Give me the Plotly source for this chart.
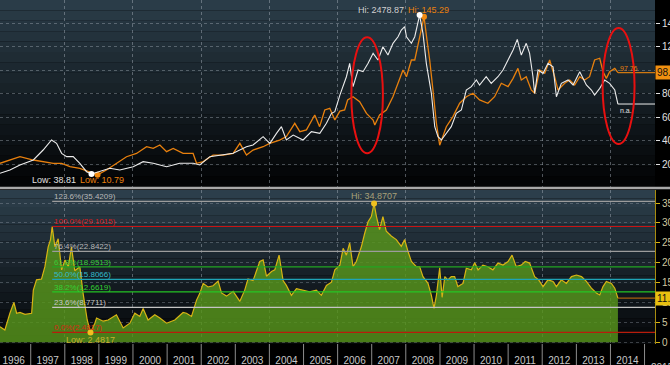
import numpy as np
import plotly.graph_objects as go

# ---------------- data ----------------
oil_dates = ["1996-02-07","1996-05-23","1996-09-08","1997-01-29","1997-05-14","1997-08-31","1997-11-28",
    "1998-02-25","1998-06-11","1998-09-10","1998-12-18","1999-03-23","1999-07-08","1999-10-24",
    "2000-02-08","2000-05-26","2000-08-05","2000-10-15","2000-12-26","2001-03-07","2001-06-21",
    "2001-10-06","2001-11-12","2002-01-22","2002-05-08","2002-08-24","2002-12-09","2003-02-19",
    "2003-05-01","2003-07-10","2003-10-26","2004-01-05","2004-04-20","2004-07-01","2004-09-29",
    "2004-11-22","2005-02-01","2005-05-01","2005-06-22","2005-08-16","2005-10-09","2005-12-02",
    "2006-01-25","2006-03-17","2006-04-18","2006-06-15","2006-08-25","2006-11-06","2007-01-16",
    "2007-02-03","2007-03-26","2007-06-07","2007-08-16","2007-10-27","2007-12-02","2008-01-08",
    "2008-03-01","2008-04-06","2008-05-28","2008-07-14","2008-08-15","2008-09-13","2008-10-18",
    "2008-11-24","2008-12-29","2009-02-03","2009-03-10","2009-05-20","2009-07-31","2009-10-11",
    "2009-12-20","2010-03-01","2010-05-29","2010-08-09","2010-10-20","2010-12-31","2011-02-23",
    "2011-04-16","2011-05-22","2011-07-14","2011-09-06","2011-10-12","2011-12-05","2012-01-28",
    "2012-03-21","2012-05-13","2012-06-18","2012-08-29","2012-10-21","2012-12-14","2013-02-06",
    "2013-03-30","2013-05-22","2013-07-15","2013-09-08","2013-10-13","2013-11-18","2013-12-23",
    "2014-02-16","2014-03-22"]
oil_values = [20.6,23.4,26.2,23.4,22.0,20.6,20.6,
    17.7,16.3,13.5,10.79,14.9,20.6,26.2,
    29.0,34.7,33.3,36.2,30.5,33.3,29.0,
    29.0,20.6,22.0,27.6,27.6,29.0,37.6,
    27.6,31.9,34.7,37.6,40.4,43.3,54.6,
    47.5,49.0,61.7,51.8,66.0,67.4,57.5,
    65.0,66.0,74.5,77.3,73.0,63.1,57.4,
    53.2,61.7,66.0,77.3,91.5,100.0,94.3,
    108.5,108.5,128.3,145.29,125.5,108.5,83.0,
    54.6,36.0,43.2,51.7,60.3,71.7,77.3,
    80.2,74.5,71.7,77.3,88.7,85.8,92.9,
    101.4,91.5,94.3,83.0,80.2,100.0,97.2,
    108.5,94.3,83.0,88.7,91.5,87.2,94.3,
    91.5,94.3,108.5,110.0,98.6,92.9,98.6,
    101.4,97.76]

index_dates = ["1996-02-07","1996-05-23","1996-09-08","1997-01-29","1997-05-14","1997-08-12","1997-10-05",
    "1997-11-28","1998-01-21","1998-04-01","1998-06-11","1998-08-22","1998-10-14","1999-01-12",
    "1999-04-28","1999-08-13","2000-01-04","2000-04-19","2000-08-05","2000-12-26","2001-05-16",
    "2001-10-07","2001-12-17","2002-04-03","2002-07-18","2002-12-09","2003-04-30","2003-07-10",
    "2003-10-26","2004-01-06","2004-03-17","2004-05-09","2004-07-01","2004-09-12","2004-12-27",
    "2005-03-26","2005-06-24","2005-09-03","2005-10-27","2005-12-02","2006-01-25","2006-04-05",
    "2006-05-10","2006-06-15","2006-08-08","2006-09-30","2006-11-23","2007-01-16","2007-03-09",
    "2007-05-01","2007-06-24","2007-08-17","2007-10-10","2007-11-14","2007-12-20","2008-01-08",
    "2008-03-01","2008-04-06","2008-05-28","2008-07-03","2008-08-08","2008-09-07","2008-10-01",
    "2008-11-06","2008-12-11","2009-01-16","2009-03-10","2009-05-02","2009-06-25","2009-08-18",
    "2009-10-10","2009-12-03","2010-01-26","2010-03-01","2010-05-11","2010-07-04","2010-09-14",
    "2010-11-07","2010-12-31","2011-02-23","2011-04-09","2011-05-22","2011-07-14","2011-08-19",
    "2011-09-24","2011-10-12","2011-11-17","2012-01-10","2012-03-03","2012-04-26","2012-06-01",
    "2012-07-24","2012-10-04","2012-11-27","2013-02-06","2013-04-18","2013-06-11","2013-07-15",
    "2013-09-08","2013-10-31","2013-12-23","2014-02-16","2014-03-22"]
index_values = [49,100,177,254,407,561,510,
    356,305,305,203,74,38.81,74,
    126,100,151,228,203,151,203,
    203,177,305,330,356,458,484,
    612,510,663,765,561,637,561,
    689,663,817,970,996,1250,1532,
    1738,1379,1635,1609,1738,1891,1789,
    1993,1865,2045,2146,2249,2300,2146,
    2045,2146,2478.87,2198,1738,1482,1277,
    765,612,561,663,765,970,1021,
    1328,1379,1482,1405,1532,1430,1532,
    1635,1789,1942,2106,1865,2045,1891,
    1532,1277,1635,1584,1738,1686,1225,
    1430,1482,1405,1609,1405,1328,1251,
    1354,1482,1430,1328,1113]

ratio_dates = ["1996-02-07","1996-03-30","1996-05-23","1996-07-05","1996-08-03","1996-09-08","1996-11-01",
    "1997-01-11","1997-01-29","1997-03-04","1997-04-27","1997-06-02","1997-07-07","1997-08-01",
    "1997-08-19","1997-09-17","1997-10-22","1997-11-28","1998-01-03","1998-02-08","1998-03-13",
    "1998-04-18","1998-06-11","1998-07-16","1998-08-29","1998-10-03","1998-11-19","1998-12-07",
    "1999-02-17","1999-04-10","1999-07-08","1999-09-18","1999-11-29","2000-01-21","2000-03-14",
    "2000-04-19","2000-06-11","2000-08-22","2000-10-15","2000-12-26","2001-03-24","2001-06-21",
    "2001-07-27","2001-09-19","2001-11-12","2001-12-17","2002-01-22","2002-03-15","2002-05-08",
    "2002-07-01","2002-08-06","2002-09-29","2002-12-09","2003-02-19","2003-04-12","2003-05-17",
    "2003-07-10","2003-09-20","2003-10-26","2003-12-01","2004-01-24","2004-02-28","2004-04-14",
    "2004-05-27","2004-07-01","2004-08-24","2004-10-17","2004-12-27","2005-03-08","2005-05-18",
    "2005-07-11","2005-09-03","2005-10-27","2005-12-02","2006-01-25","2006-03-01","2006-04-05",
    "2006-05-10","2006-06-15","2006-07-20","2006-09-12","2006-10-18","2006-11-23","2006-12-28",
    "2007-01-26","2007-02-21","2007-03-26","2007-05-01","2007-06-06","2007-07-29","2007-09-21",
    "2007-11-14","2007-12-20","2008-01-25","2008-03-01","2008-04-23","2008-05-28","2008-07-03",
    "2008-08-26","2008-10-01","2008-10-29","2008-11-24","2008-12-29","2009-01-24","2009-02-22",
    "2009-03-27","2009-05-02","2009-06-07","2009-07-12","2009-09-05","2009-10-10","2009-12-03",
    "2010-01-08","2010-02-13","2010-04-06","2010-05-29","2010-07-22","2010-09-14","2010-11-07",
    "2010-12-31","2011-02-12","2011-03-29","2011-05-22","2011-07-03","2011-08-19","2011-10-12",
    "2011-11-24","2012-01-10","2012-03-03","2012-04-26","2012-06-01","2012-07-24","2012-09-16",
    "2012-11-09","2013-01-02","2013-02-25","2013-04-18","2013-06-11","2013-08-03","2013-09-08",
    "2013-10-13","2013-11-18","2014-01-11","2014-02-16","2014-03-22"]
ratio_values = [3.9,3.1,7.3,10.0,7.3,7.5,7.0,
    7.3,13.1,15.7,15.9,19.0,24.0,25.8,
    29.1015,24.0,26.0,18.2,20.7,19.0,24.0,
    18.0,19.0,12.3,5.6,2.4817,4.8,6.1,
    5.3,5.6,6.9,3.6,4.8,7.3,6.5,
    8.5,5.6,6.9,6.1,4.8,5.6,7.5,
    7.3,6.5,10.6,12.3,14.8,13.9,14.2,
    15.4,12.4,11.6,12.8,10.3,13.1,15.9,
    15.5,20.3,20.7,16.6,17.8,18.2,21.9,
    15.5,14.3,11.8,13.5,13.1,12.7,13.1,
    11.8,14.3,15.1,18.2,19.4,23.6,21.9,
    25.0,19.0,20.3,24.0,27.4,30.3,31.6,
    34.8707,31.6,28.3,31.6,27.9,26.7,25.8,
    24.1,25.8,22.8,20.3,19.0,19.0,16.5,
    14.8,11.8,8.5,11.8,18.7,11.3,16.5,
    15.7,16.5,16.5,14.0,14.8,18.6,18.2,
    20.0,18.2,19.4,19.0,18.2,19.9,19.4,
    20.3,21.9,19.0,19.4,20.3,19.9,16.5,
    15.7,14.0,15.7,15.3,14.0,15.7,14.8,
    16.5,16.9,16.5,15.3,13.6,12.4,11.9,
    14.0,15.3,14.8,13.6,11.1]

fib_labels = ["123.6%", "100.0%", "76.4%", "61.8%", "50.0%", "38.2%", "23.6%", "0.0%"]
fib_levels = [35.4209, 29.1015, 22.8422, 18.9513, 15.8066, 12.6619, 8.7711, 2.4817]
fib_line_colors = ["#9c9c9c", "#c81414", "#9c9c9c", "#22a522", "#1fa3b5", "#25c525", "#c4c4c4", "#b81c0c"]
fib_text_colors = ["#b8b8b8", "#d81c1c", "#b8b8b8", "#34c834", "#34bccc", "#34d034", "#c8c8c8", "#d82a14"]

year_labels = [str(y) for y in range(1996, 2015)]
oil_ticks = [20, 40, 60, 80, 100, 120, 140]
ratio_ticks = [0, 5, 10, 15, 20, 25, 30, 35]

X_START, X_END = "1996-02-07", "2015-04-23"

# ---------------- figure ----------------
FONT = "Liberation Sans"
fig = go.Figure()

ORANGE = "#e8800e"
WHITE = "#ececec"
YELLOW = "#d8b414"

fig.add_trace(go.Scatter(x=index_dates, y=index_values, mode="lines", xaxis="x2", yaxis="y3",
                         line=dict(color=WHITE, width=1.1), hoverinfo="skip"))
fig.add_trace(go.Scatter(x=oil_dates, y=oil_values, mode="lines", xaxis="x2", yaxis="y2",
                         line=dict(color=ORANGE, width=1.3), hoverinfo="skip"))
fig.add_trace(go.Scatter(x=[index_dates[-1], X_END], y=[index_values[-1], index_values[-1]], mode="lines",
                         xaxis="x2", yaxis="y3", line=dict(color=WHITE, width=1), hoverinfo="skip"))
fig.add_trace(go.Scatter(x=[oil_dates[-1], X_END], y=[oil_values[-1], oil_values[-1]], mode="lines",
                         xaxis="x2", yaxis="y2", line=dict(color="#d07810", width=1.3), hoverinfo="skip"))

oi_lo, oi_hi = int(np.argmin(oil_values)), int(np.argmax(oil_values))
ix_lo, ix_hi = int(np.argmin(index_values)), int(np.argmax(index_values))
fig.add_trace(go.Scatter(x=[index_dates[ix_lo], index_dates[ix_hi]], y=[index_values[ix_lo], index_values[ix_hi]],
                         mode="markers", xaxis="x2", yaxis="y3", marker=dict(color="white", size=6), hoverinfo="skip"))
fig.add_trace(go.Scatter(x=[oil_dates[oi_lo], oil_dates[oi_hi]], y=[oil_values[oi_lo], oil_values[oi_hi]],
                         mode="markers", xaxis="x2", yaxis="y2", marker=dict(color="#f08a10", size=6), hoverinfo="skip"))

fig.add_trace(go.Scatter(x=ratio_dates, y=ratio_values, mode="lines", xaxis="x", yaxis="y",
                         fill="tozeroy", fillcolor="rgba(88,150,28,0.82)",
                         line=dict(color=YELLOW, width=1.2), hoverinfo="skip"))
fig.add_trace(go.Scatter(x=[ratio_dates[-1], X_END], y=[ratio_values[-1], ratio_values[-1]], mode="lines",
                         xaxis="x", yaxis="y", line=dict(color="#a8600e", width=1.3), hoverinfo="skip"))

r_hi_1997 = int(np.argmax(ratio_values[:30]))
fib_start = ratio_dates[r_hi_1997]
for lvl, col in zip(fib_levels, fib_line_colors):
    fig.add_trace(go.Scatter(x=[fib_start, X_END], y=[lvl, lvl], mode="lines", xaxis="x", yaxis="y",
                             line=dict(color=col, width=1.2), hoverinfo="skip"))

r_lo, r_hi = int(np.argmin(ratio_values)), int(np.argmax(ratio_values))
fig.add_trace(go.Scatter(x=[ratio_dates[r_lo], ratio_dates[r_hi]], y=[ratio_values[r_lo], ratio_values[r_hi]],
                         mode="markers", xaxis="x", yaxis="y", marker=dict(color="#f0c020", size=6), hoverinfo="skip"))

# ---------------- background gradients ----------------
shapes = []
def grad(yref, top, bottom, n=18):
    for i in range(n):
        t = i / (n - 1)
        c = [int(round(top[k] + (bottom[k] - top[k]) * t)) for k in range(3)]
        shapes.append(dict(type="rect", xref="paper", yref=yref, x0=0, x1=1,
                           y0=1 - (i + 1) / n, y1=1 - i / n, fillcolor=f"rgb({c[0]},{c[1]},{c[2]})",
                           line=dict(width=0), layer="below"))
grad("y2 domain", (42, 60, 72), (3, 4, 5))
grad("y domain", (44, 62, 75), (5, 7, 9))

shapes.append(dict(type="line", xref="paper", yref="paper", x0=0, x1=1.03, y0=0.4535, y1=0.4535,
                   line=dict(color="#a8a8a8", width=2.5)))
for y in range(1997, 2016):
    shapes.append(dict(type="line", xref="x", yref="paper", x0=f"{y}-01-01", x1=f"{y}-01-01",
                       y0=0, y1=-0.07, line=dict(color="#8c8c8c", width=1)))
shapes.append(dict(type="circle", xref="x2", yref="y2", x0="2006-05-28", x1="2007-05-01",
                   y0=29.1, y1=127.8, line=dict(color="#e81010", width=2)))
shapes.append(dict(type="circle", xref="x2", yref="y2", x0="2013-10-09", x1="2014-09-16",
                   y0=37.0, y1=135.7, line=dict(color="#e81010", width=2)))

# ---------------- annotations ----------------
ann = []
def A(**kw):
    base = dict(showarrow=False, font=dict(family=FONT, size=9))
    base.update(kw)
    ann.append(base)

for lab, lvl, col in zip(fib_labels, fib_levels, fib_text_colors):
    A(x=fib_start, y=lvl, xref="x", yref="y", xanchor="left", yanchor="bottom", yshift=-2,
      text=f"{lab}({lvl:.4f})", font=dict(family=FONT, size=8, color=col))

A(x=ratio_dates[r_lo], y=ratio_values[r_lo], xref="x", yref="y", yanchor="top", yshift=-1,
  text=f"Low: {ratio_values[r_lo]:.4f}", font=dict(family=FONT, size=9, color="#c8b030"))
A(x=ratio_dates[r_hi], y=ratio_values[r_hi], xref="x", yref="y", yanchor="bottom", yshift=1,
  text=f"Hi: {ratio_values[r_hi]:.4f}", font=dict(family=FONT, size=9, color="#a8a078"))

A(x="1998-05-20", y=6, xref="x2", yref="y2", xanchor="right", text=f"Low: {index_values[ix_lo]:.2f}",
  font=dict(family=FONT, size=9, color="#e0e0e0"))
A(x="1998-05-20", y=6, xref="x2", yref="y2", xanchor="left", text=f"Low: {oil_values[oi_lo]:.2f}",
  font=dict(family=FONT, size=9, color=ORANGE))
A(x="2008-01-07", y=151, xref="x2", yref="y2", xanchor="right", text=f"Hi: {index_values[ix_hi]:.2f}",
  font=dict(family=FONT, size=9, color="#d0d0d0"))
A(x="2008-01-07", y=151, xref="x2", yref="y2", xanchor="left", text=f"Hi: {oil_values[oi_hi]:.2f}",
  font=dict(family=FONT, size=9, color=ORANGE))

A(x=oil_dates[-1], y=oil_values[-1], xref="x2", yref="y2", xanchor="left", yanchor="bottom", yshift=-1,
  text=f"{oil_values[-1]:.2f}", font=dict(family=FONT, size=7, color=ORANGE))
A(x=index_dates[-1], y=index_values[-1], xref="x2", yref="y3", xanchor="left", yanchor="top", yshift=-1,
  text="n.a.", font=dict(family=FONT, size=7, color="#e0e0e0"))

A(x=1.0, y=oil_values[-1], xref="paper", yref="y2", xanchor="left", text=f"{oil_values[-1]:.0f}.",
  bgcolor="#f09010", font=dict(family=FONT, size=10, color="#101010"), borderpad=1)
A(x=1.0, y=ratio_values[-1], xref="paper", yref="y", xanchor="left", text=f"{ratio_values[-1]:.0f}.",
  bgcolor="#e8c010", font=dict(family=FONT, size=10, color="#101010"), borderpad=1)

A(x=0.991, y=-0.046, xref="paper", yref="paper", xanchor="left", yanchor="top",
  text="2015", font=dict(family=FONT, size=10, color="#c8c8c8"))

# ---------------- axes ----------------
even_years = [f"{y}-01-01" for y in range(1998, 2016, 2)]
mid_years = [f"{y}-07-02" for y in range(1996, 2015)]
xcommon = dict(type="date", range=[X_START, X_END], showgrid=False, zeroline=False, showline=False,
               automargin=False,
               minor=dict(tickmode="array", tickvals=even_years, showgrid=True,
                          gridcolor="rgba(170,180,190,0.45)", griddash="dot", gridwidth=1))

fig.update_layout(
    width=670, height=365,
    margin=dict(l=0, r=15, t=0, b=21, autoexpand=False),
    paper_bgcolor="#000000", plot_bgcolor="#000000",
    showlegend=False,
    font=dict(family=FONT, size=10, color="#d0d0d0"),
    xaxis=dict(**xcommon, anchor="y", tickmode="array", tickvals=mid_years, ticktext=year_labels,
               ticks="outside", ticklen=7, tickcolor="rgba(0,0,0,0)",
               tickfont=dict(family=FONT, size=10, color="#c8c8c8")),
    xaxis2=dict(**xcommon, anchor="y2", matches="x", showticklabels=False),
    yaxis=dict(domain=[0, 0.4477], range=[-0.43, 38.27], side="right", anchor="x", automargin=False,
               tickmode="array", tickvals=ratio_ticks, ticks="outside", ticklen=4, tickcolor=YELLOW,
               tickfont=dict(family=FONT, size=10, color="#d0c8a0"),
               showline=True, linecolor="#a88c10", linewidth=1,
               showgrid=True, gridcolor="rgba(160,170,180,0.35)", griddash="dot", zeroline=False),
    yaxis2=dict(domain=[0.4564, 1], range=[0.43, 159.57], side="right", anchor="x2", automargin=False,
                tickmode="array", tickvals=oil_ticks, ticks="outside", ticklen=4, tickcolor="#e0e0e0",
                tickfont=dict(family=FONT, size=10, color="#e0e0e0"),
                showline=False, showgrid=True, gridcolor="rgba(170,180,190,0.4)", griddash="dot",
                zeroline=False),
    yaxis3=dict(overlaying="y2", range=[-160.7, 2709.7], visible=False, anchor="x2", automargin=False),
    shapes=shapes,
    annotations=ann,
)

fig.write_html("out.html", config={"displayModeBar": False},
               post_script="document.body.style.margin='0';document.body.style.overflow='hidden';")
